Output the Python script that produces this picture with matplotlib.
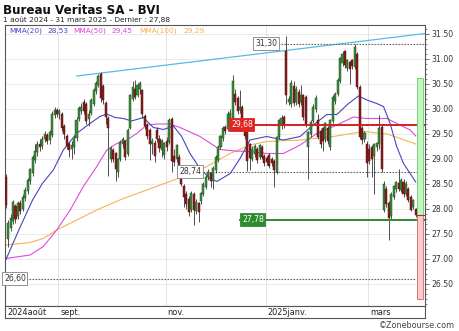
import matplotlib
matplotlib.use("Agg")
import matplotlib.pyplot as plt
from matplotlib.patches import Rectangle
import numpy as np
import pandas as pd

# ---------------- data ----------------
holidays = ["2024-12-25", "2024-12-26", "2025-01-01"]
dates = pd.bdate_range("2024-08-01", "2025-03-28")
dates = dates[~dates.isin(pd.to_datetime(holidays))]

opens = [28.64, 27.40, 27.62, 27.75, 28.05, 27.85, 28.10, 28.00, 28.22, 28.36,
         28.55, 28.72, 28.98, 29.14, 29.28, 29.26, 29.40, 29.46, 29.38, 29.48,
         29.88, 29.96, 29.90, 29.90, 29.64, 29.46, 29.28, 29.20, 29.24, 29.42,
         29.80, 29.96, 30.14, 30.10, 29.80, 29.92, 30.10, 30.36, 30.48, 30.68,
         30.44, 30.10, 29.82, 29.00, 29.18, 29.10, 28.74, 29.00, 29.30, 29.34,
         29.10, 29.62, 30.20, 30.40, 30.28, 30.40, 30.36, 29.86, 29.68, 29.58,
         29.30, 29.30, 29.58, 29.40, 29.18, 29.08, 29.34, 29.34, 29.80, 29.06,
         29.00, 29.04, 28.78, 28.44, 28.30, 28.20, 27.98, 28.30, 27.96, 28.10,
         28.16, 28.30, 28.44, 28.64, 28.70, 28.56, 28.78, 28.98, 29.24, 29.42,
         29.62, 29.60, 29.76, 29.82, 30.30, 30.22, 29.98, 30.04, 29.74, 29.64,
         29.28, 29.00, 29.10, 29.20, 29.04, 29.24, 29.06, 29.02, 29.08, 29.00,
         28.96, 28.74, 29.44, 29.70, 29.84, 31.16, 30.14, 30.10, 30.44, 30.14,
         30.34, 30.14, 30.26, 30.24, 29.24, 29.50, 29.76, 30.00, 29.76, 29.56,
         29.60, 29.40, 29.60, 29.24, 29.76, 30.16, 30.30, 30.56, 30.92, 31.14,
         30.82, 30.92, 30.96, 30.84, 31.10, 30.44, 29.60, 29.40, 29.30, 29.20,
         29.24, 29.06, 29.24, 29.30, 29.64, 27.98, 28.40, 28.10, 27.86, 28.24,
         28.40, 28.50, 28.38, 28.54, 28.30, 28.40, 28.24, 28.04, 27.98]
highs = [28.70, 27.78, 27.90, 28.18, 28.10, 28.16, 28.18, 28.30, 28.44, 28.62,
         28.82, 29.08, 29.30, 29.36, 29.40, 29.46, 29.56, 29.52, 29.58, 29.96,
         30.04, 30.02, 30.00, 29.94, 29.70, 29.50, 29.34, 29.36, 29.46, 29.84,
         30.06, 30.12, 30.20, 30.14, 29.98, 30.22, 30.42, 30.56, 30.70, 30.74,
         30.50, 30.16, 29.86, 29.26, 29.22, 29.14, 29.02, 29.38, 29.44, 29.38,
         29.62, 30.30, 30.56, 30.58, 30.52, 30.56, 30.40, 29.90, 29.72, 29.62,
         29.42, 29.38, 29.64, 29.48, 29.40, 29.34, 29.44, 29.82, 29.84, 29.20,
         29.30, 29.10, 28.82, 28.50, 28.36, 28.26, 28.36, 28.34, 28.20, 28.14,
         28.34, 28.54, 28.68, 28.80, 28.74, 28.86, 29.08, 29.28, 29.48, 29.66,
         29.68, 29.96, 30.00, 30.68, 30.40, 30.26, 30.38, 30.08, 29.78, 29.68,
         29.32, 29.26, 29.30, 29.24, 29.30, 29.28, 29.10, 29.06, 29.12, 29.04,
         29.00, 29.46, 29.80, 29.88, 29.88, 31.46, 30.26, 30.58, 30.56, 30.46,
         30.40, 30.48, 30.30, 30.28, 29.56, 29.78, 30.10, 30.28, 29.90, 29.60,
         29.64, 29.74, 29.66, 29.80, 30.28, 30.34, 30.62, 31.04, 31.16, 31.18,
         31.00, 30.96, 31.00, 31.30, 31.14, 30.48, 29.66, 29.56, 29.36, 29.30,
         29.28, 29.32, 29.34, 29.88, 29.70, 28.56, 28.46, 28.16, 28.34, 28.48,
         28.56, 28.80, 28.62, 28.60, 28.56, 28.44, 28.28, 28.20, 28.02]
lows = [28.02, 27.24, 27.55, 27.70, 27.72, 27.80, 27.90, 27.96, 28.16, 28.30,
        28.50, 28.66, 28.92, 29.05, 29.16, 29.20, 29.34, 29.30, 29.30, 29.44,
        29.82, 29.84, 29.80, 29.56, 29.40, 29.20, 29.04, 29.00, 29.10, 29.36,
        29.76, 29.90, 29.90, 29.70, 29.66, 29.88, 30.06, 30.30, 30.44, 30.14,
        30.10, 29.70, 28.66, 28.94, 28.94, 28.56, 28.64, 28.96, 29.22, 28.98,
        29.06, 29.60, 30.16, 30.20, 30.24, 30.30, 29.82, 29.60, 29.40, 28.98,
        29.10, 28.94, 29.34, 29.14, 29.04, 29.00, 29.16, 29.30, 28.74, 28.86,
        28.94, 28.82, 28.46, 28.04, 28.00, 27.86, 27.92, 27.68, 27.90, 27.74,
        28.10, 28.26, 28.40, 28.58, 28.44, 28.40, 28.72, 28.94, 29.20, 29.36,
        29.50, 29.56, 29.70, 29.76, 30.08, 29.90, 29.92, 29.74, 29.40, 28.76,
        28.78, 28.96, 29.04, 28.92, 29.00, 29.00, 28.86, 28.88, 28.82, 28.86,
        28.44, 28.70, 29.40, 29.60, 29.62, 30.10, 30.08, 30.04, 30.06, 30.08,
        30.04, 30.08, 29.78, 29.64, 28.60, 29.44, 29.72, 29.94, 29.40, 29.22,
        29.16, 29.34, 29.30, 29.18, 29.72, 30.10, 30.26, 30.52, 30.86, 30.82,
        30.76, 30.50, 30.80, 30.80, 30.40, 29.40, 29.30, 29.34, 28.64, 28.90,
        28.64, 28.30, 29.16, 29.20, 28.74, 27.94, 28.04, 27.38, 27.80, 28.20,
        28.34, 28.36, 28.34, 28.24, 28.26, 28.14, 27.96, 28.00, 27.84]
closes = [28.07, 27.70, 27.82, 28.12, 27.80, 28.12, 27.96, 28.24, 28.38, 28.58,
          28.78, 29.02, 29.16, 29.30, 29.24, 29.40, 29.48, 29.36, 29.52, 29.90,
          29.96, 29.90, 29.94, 29.62, 29.50, 29.26, 29.18, 29.26, 29.40, 29.78,
          30.02, 30.04, 29.96, 29.76, 29.90, 30.18, 30.38, 30.52, 30.66, 30.22,
          30.18, 29.84, 29.62, 29.22, 29.00, 28.80, 28.98, 29.34, 29.40, 29.04,
          29.58, 30.26, 30.42, 30.24, 30.48, 30.50, 29.90, 29.66, 29.46, 29.30,
          29.36, 29.06, 29.40, 29.22, 29.36, 29.30, 29.24, 29.76, 28.96, 28.94,
          29.26, 28.88, 28.50, 28.24, 28.10, 27.94, 28.32, 27.98, 28.14, 27.92,
          28.30, 28.50, 28.64, 28.74, 28.56, 28.80, 29.04, 29.24, 29.44, 29.62,
          29.56, 29.90, 29.92, 30.56, 30.14, 29.96, 30.04, 29.80, 29.46, 28.96,
          29.02, 29.20, 29.26, 28.98, 29.26, 29.04, 28.92, 28.94, 28.86, 28.92,
          28.78, 29.42, 29.76, 29.80, 29.68, 30.28, 30.20, 30.52, 30.12, 30.40,
          30.10, 30.26, 29.84, 29.70, 29.52, 29.74, 30.04, 30.22, 29.44, 29.30,
          29.36, 29.70, 29.36, 29.76, 30.24, 30.28, 30.58, 31.00, 31.10, 30.88,
          30.96, 30.80, 30.86, 31.24, 30.44, 29.44, 29.38, 29.50, 28.92, 28.96,
          29.00, 29.28, 29.30, 29.60, 28.80, 28.50, 28.10, 27.82, 28.28, 28.44,
          28.52, 28.40, 28.58, 28.30, 28.50, 28.18, 27.98, 28.16, 27.88]

# moving averages (trading-day index, value)
mma20_days = [0, 6, 11, 15, 19.5, 23.6, 29, 34.5, 38.6, 41.4, 44.8, 48.2, 51.6,
              56.4, 60.5, 64.6, 68.7, 72.1, 75.5, 79.6, 83.7, 86.5, 92, 96, 100.1,
              106.9, 113.8, 120.6, 126, 131.6, 135.7, 140, 144.5, 148, 152, 154.8,
              157.5, 160.2, 163, 165.7, 168]
mma20_vals = [26.97, 27.64, 28.17, 28.50, 28.77, 29.17, 29.50, 29.70, 29.84, 29.89,
              29.82, 29.80, 29.75, 29.82, 29.62, 29.58, 29.65, 29.44, 29.10, 28.80,
              28.60, 28.54, 28.70, 29.00, 29.37, 29.44, 29.37, 29.44, 29.67, 29.88,
              29.88, 30.08, 30.25, 30.17, 30.10, 30.04, 29.70, 29.24, 28.90, 28.70,
              28.53]
mma50_days = [0, 10, 15.4, 20.9, 26.4, 31.8, 37.3, 41.4, 45.5, 49.6, 53.7, 57.8,
              61.9, 67.3, 71.4, 79.6, 87.8, 94, 100.1, 107, 113.8, 120.6, 127.5,
              134.3, 142.5, 147.5, 156.2, 161.6, 165.7, 168]
mma50_vals = [27.00, 27.07, 27.24, 27.57, 27.97, 28.44, 28.84, 29.17, 29.30, 29.37,
              29.50, 29.67, 29.69, 29.69, 29.62, 29.44, 29.18, 29.15, 29.14, 29.10,
              29.10, 29.27, 29.50, 29.64, 29.83, 29.80, 29.80, 29.67, 29.57, 29.45]
mma100_days = [0, 10, 15.4, 20.9, 29.1, 38.6, 48.2, 57.8, 67.3, 74.2, 82.4, 91.9,
               100.1, 106.9, 120.6, 134.3, 146.6, 156.2, 161.6, 168]
mma100_vals = [27.27, 27.32, 27.40, 27.57, 27.77, 28.00, 28.20, 28.37, 28.54, 28.67,
               28.84, 29.10, 29.27, 29.34, 29.37, 29.44, 29.54, 29.49, 29.40, 29.29]

trend_days = [29.1, 171.8]
trend_vals = [30.65, 31.50]

level_high = 31.30
level_mid = 28.74
level_low = 26.60
resistance = 29.68
support = 27.78
last_price = 27.88
range_top = 30.60
range_bottom = 26.20

month_labels = ["2024août", "sept.", "nov.", "2025janv.", "mars"]
month_keys = ["2024-08", "2024-09", "2024-11", "2025-01", "2025-03"]
yticks = [26.5, 27.0, 27.5, 28.0, 28.5, 29.0, 29.5, 30.0, 30.5, 31.0, 31.5]

# ---------------- figure ----------------
W, H = 460, 331
plt.rcParams["font.family"] = ["DejaVu Sans"]
fig = plt.figure(figsize=(W / 100, H / 100), dpi=100)
fig.patch.set_facecolor("white")

def fx(px):
    return px / W

def fy(py):
    return 1 - py / H

ax = fig.add_axes([fx(5), fy(306), fx(420), (306 - 25) / H])
XMIN, XMAX = -0.3, 171.8
ax.set_xlim(XMIN, XMAX)
ax.set_ylim(26.05, 31.67)

frame_col = "#555555"
for s in ["left", "top", "right", "bottom"]:
    ax.spines[s].set_color(frame_col)
    ax.spines[s].set_linewidth(0.8)

# grid
for v in yticks:
    ax.axhline(v, color="#e6e6e6", lw=0.6, zorder=0)
month_idx = {}
for k in month_keys:
    pos = np.where(dates.strftime("%Y-%m") == k)[0]
    month_idx[k] = pos[0]
for k in month_keys[1:]:
    ax.axvline(month_idx[k] - 0.5, color="#e3e3e3", lw=0.7, zorder=0)

ax.set_xticks([])
ax.yaxis.tick_right()
ax.set_yticks(yticks)
ax.set_yticklabels([f"{v:.2f}" for v in yticks])
ax.yaxis.set_minor_locator(matplotlib.ticker.MultipleLocator(0.1))
ax.tick_params(axis="y", which="major", direction="out", length=3, width=0.6,
               colors=frame_col, labelsize=5.6, pad=1.5, labelcolor="#333333")
ax.tick_params(axis="y", which="minor", direction="out", length=1.5, width=0.5,
               colors=frame_col)

# moving averages and trend line
ax.plot(mma100_days, mma100_vals, color="#f4b456", lw=0.8, zorder=2)
ax.plot(mma50_days, mma50_vals, color="#e04ae0", lw=0.8, zorder=2)
ax.plot(mma20_days, mma20_vals, color="#4646c0", lw=0.8, zorder=2)
ax.plot(trend_days, trend_vals, color="#52bde6", lw=0.9, zorder=2, clip_on=False)

# candles
x = np.arange(len(closes))
for i in x:
    o, h, l, c = opens[i], highs[i], lows[i], closes[i]
    up = c >= o
    body_col = "#3d8b3d" if up else "#8b1e1e"
    edge_col = "#1f4f1f" if up else "#4f0f0f"
    ax.vlines(i, l, h, color="#333333", lw=0.6, zorder=3)
    bottom = min(o, c)
    height = max(abs(c - o), 0.02)
    ax.add_patch(Rectangle((i - 0.42, bottom), 0.84, height, facecolor=body_col,
                           edgecolor=edge_col, lw=0.35, zorder=4))

# horizontal levels
def xi(px):
    return XMIN + (px - 5) / 420 * (XMAX - XMIN)

dash = dict(color="#666666", lw=0.8, linestyle=(0, (1.5, 1.2)), zorder=2)
ax.plot([xi(278), XMAX], [level_high, level_high], **dash)
ax.plot([xi(203), XMAX], [level_mid, level_mid], **dash)
ax.plot([xi(26), xi(416)], [level_low, level_low], **dash)
ax.plot([xi(229), XMAX], [resistance, resistance], color="#d42020", lw=1.4, zorder=5)
ax.plot([xi(240), XMAX], [support, support], color="#2e8b2e", lw=1.4, zorder=5)

lab_fs = 5.6
def tag(px_left, y, txt, fc, ec, tc):
    ax.text(xi(px_left), y, txt, fontsize=lab_fs, color=tc, ha="left", va="center",
            zorder=7, clip_on=False,
            bbox=dict(boxstyle="square,pad=0.2", fc=fc, ec=ec, lw=0.6))

tag(255, level_high, "31,30", "white", "#808080", "#333333")
tag(179, level_mid, "28,74", "white", "#808080", "#333333")
tag(4, level_low, "26,60", "white", "#808080", "#333333")
tag(231, resistance, "29,68", "#e02424", "#e02424", "white")
tag(242, support, "27,78", "#2e8b2e", "#2e8b2e", "white")

# range boxes at the right
ax.add_patch(Rectangle((xi(417), last_price), xi(423) - xi(417), range_top - last_price,
                       facecolor="#c2f5c2", edgecolor="#6cd86c", lw=0.7, zorder=6))
ax.add_patch(Rectangle((xi(417), range_bottom), xi(423) - xi(417), last_price - range_bottom,
                       facecolor="#f7cccc", edgecolor="#e07070", lw=0.7, zorder=6))
ax.plot([xi(416), XMAX], [last_price, last_price], color="#b03030", lw=0.8, zorder=7)

# legend text
items = [("MMA(20)", "#4646c0", 9), ("28,53", "#4646c0", 47),
         ("MMA(50)", "#d848d8", 73), ("29,45", "#d848d8", 111),
         ("MMA(100)", "#f0b050", 139), ("29,29", "#f0b050", 183)]
for t, col, px in items:
    fig.text(fx(px), fy(31), t, fontsize=5.3, color=col, ha="left", va="center")

# date strip
sx = fig.add_axes([fx(5), fy(318), fx(420), 12 / H])
sx.set_xlim(XMIN, XMAX)
sx.set_ylim(0, 1)
sx.set_xticks([])
sx.set_yticks([])
for s in ["left", "top", "right", "bottom"]:
    sx.spines[s].set_color(frame_col)
    sx.spines[s].set_linewidth(0.8)
for lab, k in zip(month_labels, month_keys):
    pos = month_idx[k] - 0.5 if k != month_keys[0] else XMIN
    sx.text(pos + 0.8, 0.45, lab, fontsize=5.9, color="#222222", ha="left", va="center")

# titles
fig.text(fx(3), fy(10), "Bureau Veritas SA - BVI", fontsize=8.6, fontweight="bold",
         color="#111111", ha="left", va="center")
fig.text(fx(3), fy(20), "1 août 2024 - 31 mars 2025 - Dernier : 27,88", fontsize=5.3,
         color="#222222", ha="left", va="center")
fig.text(fx(455), fy(325), "©Zonebourse.com", fontsize=5.8, color="#444444",
         ha="right", va="center")

fig.savefig("out.png", dpi=100, facecolor="white")
